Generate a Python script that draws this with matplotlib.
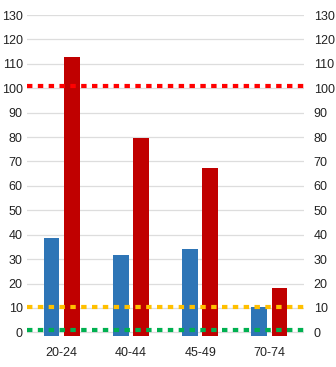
import numpy as np
from matplotlib import pyplot as plt

plt.rcParams['font.family'] = ['Liberation Sans', 'DejaVu Sans']

categories = ['20-24', '40-44', '45-49', '70-74']
blue_vals = [38.5, 31.5, 34, 10.5]
red_vals = [113, 79.5, 67.5, 18]
ref_red = 101
ref_yellow = 10.5
ref_green = 0.8
yticks = list(range(0, 140, 10))

fig = plt.figure(figsize=(3.36, 3.67), dpi=100)
ax = fig.add_axes([0.080, 0.0845, 0.825, 0.8745])

x = np.arange(len(categories))
w = 0.23
base = -1.5
ax.bar(x - 0.145, np.array(blue_vals) - base, w, bottom=base, color='#2E75B6', zorder=2)
ax.bar(x + 0.145, np.array(red_vals) - base, w, bottom=base, color='#C00000', zorder=2)

ax.axhline(ref_red, color='#FF0000', lw=3, dashes=(1.3, 1.3), zorder=3)
ax.axhline(ref_yellow, color='#FFC000', lw=3, dashes=(1.3, 1.3), zorder=3)
ax.axhline(ref_green, color='#00B050', lw=3, dashes=(1.3, 1.3), zorder=3)

ax.set_xlim(-0.5, len(categories) - 0.5)
ax.set_ylim(base, 130)
ax.set_yticks(yticks)
ax.set_xticks(x)
ax.set_xticklabels(categories)
ax.grid(axis='y', color='#DDDDDD', lw=0.9, zorder=0)
for s in ax.spines.values():
    s.set_visible(False)
ax.tick_params(length=0, labelsize=9, colors='#222222')
ax.tick_params(axis='y', pad=3)
ax.tick_params(axis='x', pad=8)

ax2 = ax.twinx()
ax2.set_ylim(base, 130)
ax2.set_yticks(yticks)
for s in ax2.spines.values():
    s.set_visible(False)
ax2.tick_params(length=0, labelsize=9, colors='#222222', pad=7)

fig.savefig('out.png', dpi=100)
